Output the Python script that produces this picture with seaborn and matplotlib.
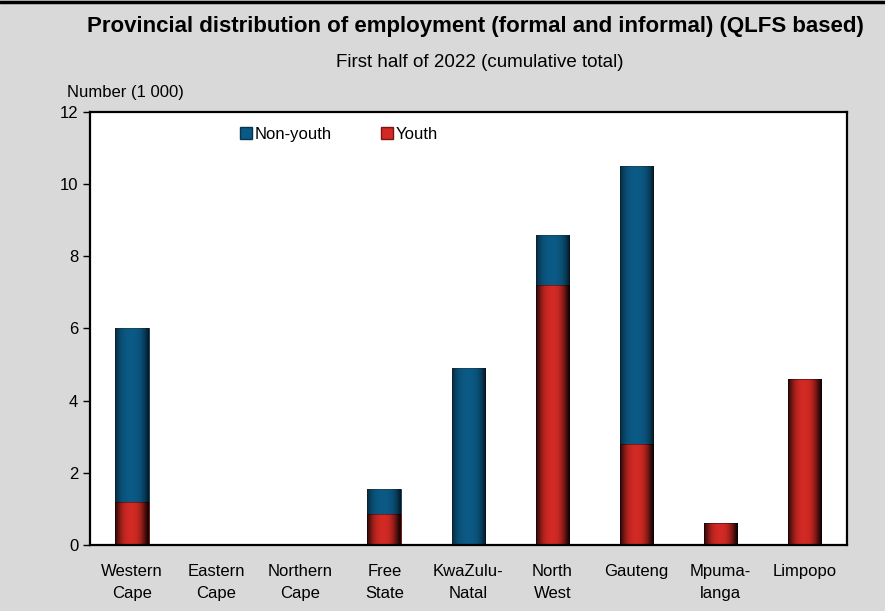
import matplotlib
matplotlib.use("Agg")
import matplotlib.pyplot as plt
import seaborn as sns
import numpy as np
import pandas as pd
from matplotlib.patches import Patch
from matplotlib.ticker import FixedLocator

provinces = ["Western\nCape", "Eastern\nCape", "Northern\nCape", "Free\nState",
             "KwaZulu-\nNatal", "North\nWest", "Gauteng", "Mpuma-\nlanga", "Limpopo"]
youth = [1.2, 0.0, 0.0, 0.85, 0.0, 7.2, 2.8, 0.6, 4.6]
non_youth = [4.8, 0.0, 0.0, 0.7, 4.9, 1.4, 7.7, 0.0, 0.0]

BLUE = "#0b5985"
RED = "#d12a24"
BG = "#d9d9d9"

df = pd.DataFrame({"province": provinces, "youth": youth, "non_youth": non_youth})
df["total"] = df["youth"] + df["non_youth"]

sns.set_style("white")
plt.rcParams['font.family'] = ['Liberation Sans', 'DejaVu Sans']
plt.rcParams['text.color'] = 'black'
plt.rcParams['xtick.color'] = 'black'
plt.rcParams['ytick.color'] = 'black'

fig = plt.figure(figsize=(8.85, 6.11), dpi=100, facecolor=BG)
ax = fig.add_axes([0.1017, 0.108, 0.855, 0.709])
ax.set_facecolor("white")

sns.barplot(data=df, x="province", y="total", color=BLUE, width=0.4,
            saturation=1, edgecolor="#06354f", linewidth=0.6, ax=ax)
sns.barplot(data=df, x="province", y="youth", color=RED, width=0.4,
            saturation=1, edgecolor="#7a1512", linewidth=0.6, ax=ax)

# darken the sides of each bar for a rounded look
t = np.linspace(-1, 1, 64)
side = np.zeros((1, 64, 4))
side[0, :, 3] = 0.55 * np.abs(t) ** 3 + 0.2 * np.clip(t, 0, 1) ** 2
for bar in list(ax.patches):
    h = bar.get_height()
    if h <= 0:
        continue
    x0, w, y0 = bar.get_x(), bar.get_width(), bar.get_y()
    im = ax.imshow(side, extent=[x0, x0 + w, y0, y0 + h], aspect="auto",
                   zorder=bar.get_zorder() + 0.1, interpolation="bilinear")
    im.set_clip_path(bar)

ax.set_ylim(0, 12)
ax.set_xlim(-0.5, len(provinces) - 0.5)
ax.set_yticks(range(0, 13, 2))
ax.set_xlabel("")
ax.set_ylabel("")
ax.xaxis.set_minor_locator(FixedLocator([i - 0.5 for i in range(len(provinces) + 1)]))
ax.tick_params(axis="x", which="major", length=0, labelsize=12, pad=14)
ax.tick_params(axis="x", which="minor", length=5, width=1, direction="out", color="black")
ax.tick_params(axis="y", length=5, width=1, direction="out", color="black", labelsize=12, left=True)
for lbl in ax.get_xticklabels():
    lbl.set_linespacing(1.55)
for s in ax.spines.values():
    s.set_color("black")
    s.set_linewidth(1.6)

handles = [Patch(facecolor=BLUE, edgecolor="#06354f", label="Non-youth"),
           Patch(facecolor=RED, edgecolor="#7a1512", label="Youth")]
ax.legend(handles=handles, loc="upper center", bbox_to_anchor=(0.329, 1.0), ncol=2,
          frameon=False, fontsize=12, handlelength=0.7, handleheight=0.7,
          handletextpad=0.15, columnspacing=3.0)

fig.text(0.537, 0.956, "Provincial distribution of employment (formal and informal) (QLFS based)",
         ha="center", va="center", fontsize=16, fontweight="bold")
fig.text(0.542, 0.898, "First half of 2022 (cumulative total)", ha="center", va="center", fontsize=13.5)
fig.text(0.076, 0.849, "Number (1 000)", ha="left", va="center", fontsize=12)

fig.add_artist(plt.Line2D([0, 1], [0.997, 0.997], color="black", linewidth=2.5,
                          transform=fig.transFigure))

fig.savefig("out.png", dpi=100, facecolor=BG)
